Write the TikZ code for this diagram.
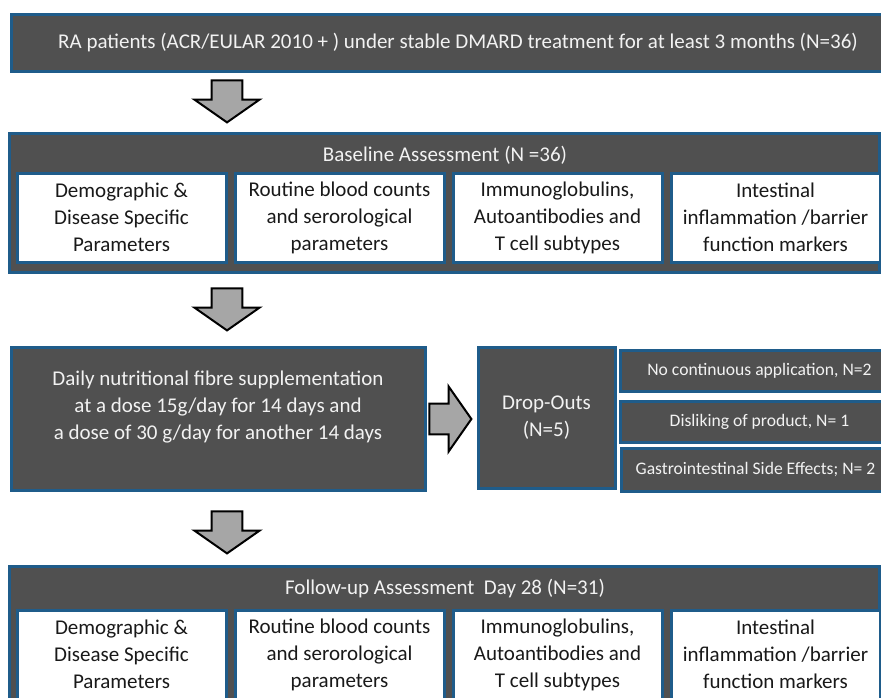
\documentclass[tikz,border=0pt]{standalone}
\usepackage{fontspec}
\setmainfont{Carlito}
\usepackage[svgnames, dvipsnames]{xcolor}
\usetikzlibrary{shapes.arrows}
\definecolor{boxgray}{HTML}{505050}
\definecolor{boxblue}{HTML}{1F5C8A}
\definecolor{arrowgray}{HTML}{A6A6A6}
\tikzset{>=latex,
  darkbox/.style={draw=boxblue, fill=boxgray, line width=1.5pt, text=white!95!black,
    align=center, inner sep=0pt, font=\fontsize{10.5}{13.5}\selectfont},
  whitebox/.style={draw=boxblue, fill=white, line width=1.5pt, text=black!90, align=center,
    minimum width=104.5pt, minimum height=44.5pt, inner sep=0pt, font=\fontsize{10.5}{13.5}\selectfont},
  sidebox/.style={darkbox, minimum width=132.5pt, minimum height=20.5pt, font=\fontsize{8.8}{10}\selectfont},
  blockarrow/.style={single arrow, draw=black, fill=arrowgray, line width=1pt, inner xsep=0pt,
    inner ysep=7.2pt, minimum height=21pt, single arrow head extend=8.6pt, single arrow tip angle=110}
}

\begin{document}
\begin{tikzpicture}[x=0.5pt, y=-0.5pt]
\clip (0,0) rectangle (881,697);
\fill[white] (0,0) rectangle (881,697);
% inclusion
\node[darkbox, minimum width=437pt, minimum height=28.5pt] (patients) at (448,42.5)
  {\hspace{10pt}RA patients (ACR/EULAR 2010 + ) under stable DMARD treatment for at least 3 months (N=36)};
\node[blockarrow, rotate=-90] (arr1) at (227,96) {};
% baseline
\node[darkbox, minimum width=435pt, minimum height=69.5pt] (baseline) at (444.5,202.5) {};
\node[darkbox, draw=none, fill=none] (basetitle) at (445,155) {Baseline Assessment (N =36)};
\node[whitebox] (b1) at (121.5,217.5) {Demographic \&\\ Disease Specific\\ Parameters};
\node[whitebox] (b2) at (339.5,217.5) {Routine blood counts\\ and serorological\\ parameters};
\node[whitebox] (b3) at (557.5,217.5) {Immunoglobulins,\\ Autoantibodies and\\ T cell subtypes};
\node[whitebox] (b4) at (775.5,217.5) {Intestinal\\ inflammation /barrier\\ function markers};
\node[blockarrow, rotate=-90] (arr2) at (227,304) {};
% intervention
\node[darkbox, minimum width=207pt, minimum height=71.5pt] (fibre) at (218,418.5) {};
\node[darkbox, draw=none, fill=none] (fibretext) at (218,407)
  {Daily nutritional fibre supplementation\\ at a dose 15g/day for 14 days and\\ a dose of 30 g/day for another 14 days};
\node[blockarrow] (arr3) at (445,419) {};
\node[darkbox, minimum width=68.5pt, minimum height=70.5pt] (drop) at (546.5,417.5) {Drop-Outs\\ (N=5)};
\node[sidebox] (d1) at (752.5,370.5) {\hspace{7pt}No continuous application, N=2};
\node[sidebox] (d2) at (752.5,422) {\hspace{7pt}Disliking of product, N= 1};
\node[sidebox, minimum height=21.5pt] (d3) at (753.5,469.5) {\hspace{2pt}Gastrointestinal Side Effects; N= 2};
\node[blockarrow, rotate=-90] (arr4) at (227,527) {};
% follow-up
\node[darkbox, minimum width=435pt, minimum height=69.5pt] (followup) at (444.5,635.5) {};
\node[darkbox, draw=none, fill=none] (fuptitle) at (445,588) {Follow-up Assessment\ \ Day 28 (N=31)};
\node[whitebox] (f1) at (121.5,654.5) {Demographic \&\\ Disease Specific\\ Parameters};
\node[whitebox] (f2) at (339.5,654.5) {Routine blood counts\\ and serorological\\ parameters};
\node[whitebox] (f3) at (557.5,654.5) {Immunoglobulins,\\ Autoantibodies and\\ T cell subtypes};
\node[whitebox] (f4) at (775.5,654.5) {Intestinal\\ inflammation /barrier\\ function markers};
\end{tikzpicture}
\end{document}
